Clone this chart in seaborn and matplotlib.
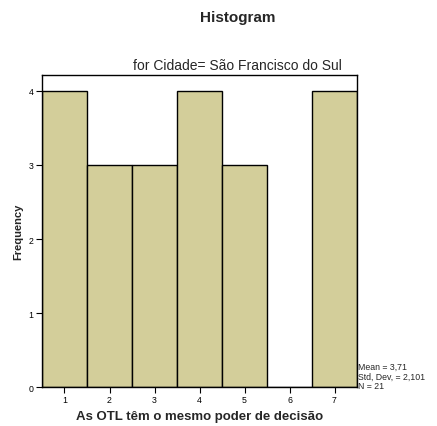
import numpy as np
import pandas as pd
import seaborn as sns
import matplotlib
matplotlib.use("Agg")
import matplotlib.pyplot as plt

# valores da escala e frequências
valores = [1, 2, 3, 4, 5, 6, 7]
frequencias = [4, 3, 3, 4, 3, 0, 4]
yticks = [0, 1, 2, 3, 4]

df = pd.DataFrame({"valor": valores, "freq": frequencias})

sns.set_style("white")
plt.rcParams['font.family'] = ['Liberation Sans', 'DejaVu Sans']

fig = plt.figure(figsize=(4.37, 4.27), dpi=100)
ax = fig.add_axes([0.0961, 0.0913, 0.7209, 0.7307])

sns.histplot(data=df, x="valor", weights="freq", bins=7, binrange=(0.5, 7.5),
             color="#D3CE9A", edgecolor="black", linewidth=1.0, alpha=1, ax=ax)

ax.set_xlim(0.5, 7.5)
ax.set_ylim(0, 4.216)
ax.set_xticks(valores)
ax.set_yticks(yticks)
ax.tick_params(axis="both", direction="out", length=4, width=0.8,
               labelsize=6.3, pad=2, bottom=True, left=True, colors="black")
for s in ax.spines.values():
    s.set_color("black")
    s.set_linewidth(1.0)

ax.set_xlabel("As OTL têm o mesmo poder de decisão", fontsize=9.5,
              fontweight="bold", labelpad=4)
ax.set_ylabel("Frequency", fontsize=8, fontweight="bold", labelpad=4)

fig.text(0.543, 0.957, "Histogram", ha="center", va="center",
         fontsize=11, fontweight="bold")
fig.text(0.543, 0.829, "for Cidade= São Francisco do Sul", ha="center",
         va="bottom", fontsize=10)

media = np.average(valores, weights=frequencias)
dp = np.sqrt(np.sum(np.array(frequencias) * (np.array(valores) - media) ** 2)
             / (sum(frequencias) - 1))
stats = (f"Mean = {media:.2f}".replace(".", ",") + "\n"
         + f"Std. Dev. = {dp:.3f}".replace(".", ",") + "\n"
         + f"N = {sum(frequencias)}")
fig.text(0.819, 0.085, stats, ha="left", va="bottom", fontsize=6.3,
         linespacing=1.05)

fig.savefig("out.png", dpi=100)
